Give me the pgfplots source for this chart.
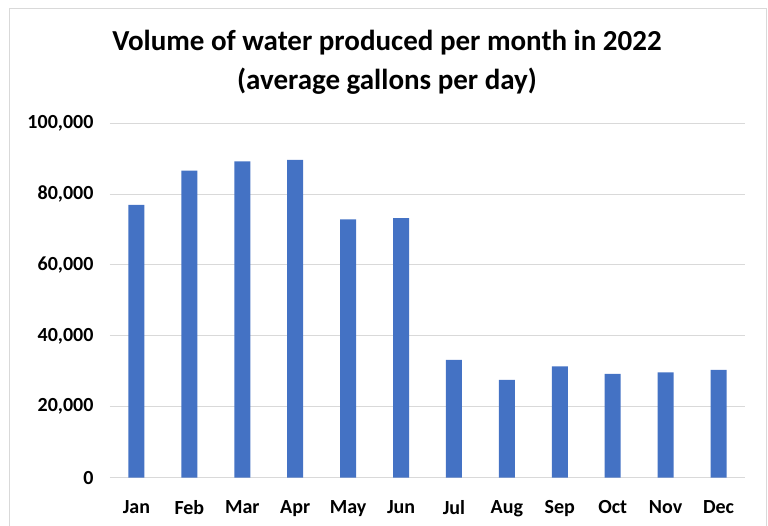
\documentclass[border=0pt]{standalone}
\usepackage{pgfplots}
\pgfplotsset{compat=1.18}
\usepackage{fontspec}
\setmainfont{Carlito}
\definecolor{barblue}{HTML}{4472C4}
\definecolor{gridgray}{HTML}{D9D9D9}
\definecolor{framegray}{HTML}{D9D9D9}
\begin{document}
\begin{tikzpicture}
\path[use as bounding box] (-110pt,-47.3pt) rectangle (658pt,477.7pt);
\draw[framegray, line width=1pt] (-100pt,-60pt) rectangle (656pt,468.7pt);
\begin{axis}[
  at={(0,0)}, anchor=south west,
  scale only axis,
  width=635pt, height=354.7pt,
  ymin=0, ymax=100000,
  xmin=-0.5, xmax=11.5,
  ytick={0,20000,40000,60000,80000,100000},
  xtick={0,...,11},
  xticklabels={Jan,Feb,Mar,Apr,May,Jun,Jul,Aug,Sep,Oct,Nov,Dec},
  scaled y ticks=false,
  /pgf/number format/assume math mode=true,
  /pgf/number format/.cd, fixed, 1000 sep={,}, /pgfplots/.cd,
  ymajorgrids,
  grid style={gridgray, line width=0.8pt},
  axis line style={draw=none},
  axis x line*=bottom,
  x axis line style={gridgray, line width=0.8pt},
  major tick length=0pt,
  tick label style={font=\fontsize{20}{24}\selectfont\bfseries, text=black},
  yticklabel style={xshift=-13pt},
  xticklabel style={yshift=-19pt},
  ybar, bar width=16pt,
]
\addplot[fill=barblue, draw=none] coordinates {
(0,76900) (1,86600) (2,89200) (3,89600) (4,72800) (5,73200)
(6,33200) (7,27600) (8,31400) (9,29300) (10,29700) (11,30400)
};
\end{axis}
\node[align=center, font=\fontsize{29}{39}\selectfont\bfseries] at (277pt,415pt) {Volume of water produced per month in 2022\\(average gallons per day)};
\end{tikzpicture}
\end{document}
